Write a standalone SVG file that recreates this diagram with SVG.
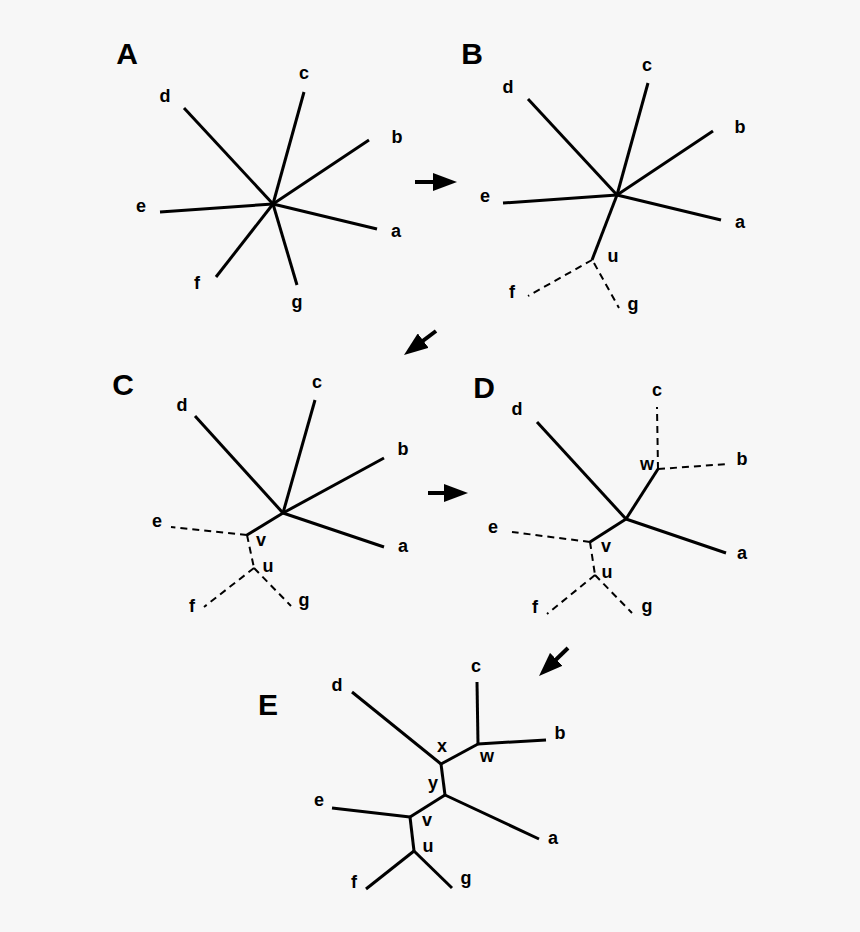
<svg xmlns="http://www.w3.org/2000/svg" width="860" height="932" viewBox="0 0 860 932">
<defs>
<style>
.bg{fill:#f7f7f7}
.t{font-family:"Liberation Sans",Arial,sans-serif;font-weight:bold;font-size:18px;fill:#000;text-anchor:middle}
.T{font-family:"Liberation Sans",Arial,sans-serif;font-weight:bold;font-size:30px;fill:#000;text-anchor:middle}
.s{stroke:#000;stroke-width:3;fill:none;stroke-linecap:butt}
.d{stroke:#000;stroke-width:2;fill:none;stroke-dasharray:7 5}
.ar{stroke:#000;stroke-width:4;fill:none}
</style>
<marker id="ah" markerUnits="userSpaceOnUse" viewBox="0 0 24 18" markerWidth="24" markerHeight="18" refX="10" refY="9" orient="auto">
<path d="M0,0 L24,9 L0,18 z" fill="#000"/>
</marker>
</defs>
<rect class="bg" x="0" y="0" width="860" height="932"/>

<g id="panelA">
<text class="T" x="127" y="64">A</text>
<g id="connectors-A">
<line class="s" x1="273" y1="204" x2="184" y2="108"/>
<line class="s" x1="273" y1="204" x2="304" y2="92"/>
<line class="s" x1="273" y1="204" x2="369" y2="140"/>
<line class="s" x1="273" y1="204" x2="377" y2="229"/>
<line class="s" x1="273" y1="204" x2="160" y2="212"/>
<line class="s" x1="273" y1="204" x2="216" y2="277"/>
<line class="s" x1="273" y1="204" x2="297" y2="285"/>
</g>
<g id="A-a"><text class="t" x="396" y="237">a</text></g>
<g id="A-b"><text class="t" x="397" y="143">b</text></g>
<g id="A-c"><text class="t" x="304" y="79">c</text></g>
<g id="A-d"><text class="t" x="165" y="102">d</text></g>
<g id="A-e"><text class="t" x="141" y="212">e</text></g>
<g id="A-f"><text class="t" x="197" y="289">f</text></g>
<g id="A-g"><text class="t" x="297" y="308">g</text></g>
</g>

<g id="panelB">
<text class="T" x="472" y="64">B</text>
<g id="connectors-B">
<line class="s" x1="617" y1="195" x2="528" y2="99"/>
<line class="s" x1="617" y1="195" x2="648" y2="83"/>
<line class="s" x1="617" y1="195" x2="713" y2="131"/>
<line class="s" x1="617" y1="195" x2="721" y2="220"/>
<line class="s" x1="617" y1="195" x2="503" y2="203"/>
<line class="s" x1="617" y1="195" x2="592" y2="260"/>
<line class="d" x1="592" y1="260" x2="528" y2="296"/>
<line class="d" x1="594" y1="263" x2="619" y2="308"/>
</g>
<g id="B-a"><text class="t" x="740" y="228">a</text></g>
<g id="B-b"><text class="t" x="740" y="133">b</text></g>
<g id="B-c"><text class="t" x="647" y="71">c</text></g>
<g id="B-d"><text class="t" x="508" y="93">d</text></g>
<g id="B-e"><text class="t" x="485" y="202">e</text></g>
<g id="B-u"><text class="t" x="613" y="262">u</text></g>
<g id="B-f"><text class="t" x="512" y="298">f</text></g>
<g id="B-g"><text class="t" x="633" y="310">g</text></g>
</g>

<g id="panelC">
<text class="T" x="123" y="395">C</text>
<g id="connectors-C">
<line class="s" x1="283" y1="513" x2="195" y2="416"/>
<line class="s" x1="283" y1="513" x2="315" y2="400"/>
<line class="s" x1="283" y1="513" x2="384" y2="458"/>
<line class="s" x1="283" y1="513" x2="384" y2="547"/>
<line class="s" x1="283" y1="513" x2="247" y2="535"/>
<line class="d" x1="247" y1="535" x2="171" y2="527"/>
<line class="d" x1="247" y1="535" x2="254" y2="568"/>
<line class="d" x1="254" y1="568" x2="204" y2="607"/>
<line class="d" x1="254" y1="568" x2="291" y2="606"/>
</g>
<g id="C-a"><text class="t" x="403" y="552">a</text></g>
<g id="C-b"><text class="t" x="403" y="455">b</text></g>
<g id="C-c"><text class="t" x="317" y="388">c</text></g>
<g id="C-d"><text class="t" x="182" y="411">d</text></g>
<g id="C-e"><text class="t" x="157" y="527">e</text></g>
<g id="C-v"><text class="t" x="261" y="546">v</text></g>
<g id="C-u"><text class="t" x="268" y="572">u</text></g>
<g id="C-f"><text class="t" x="192" y="612">f</text></g>
<g id="C-g"><text class="t" x="304" y="606">g</text></g>
</g>

<g id="panelD">
<text class="T" x="484" y="398">D</text>
<g id="connectors-D">
<line class="s" x1="626" y1="519" x2="537" y2="422"/>
<line class="s" x1="626" y1="519" x2="658" y2="469"/>
<line class="s" x1="626" y1="519" x2="726" y2="553"/>
<line class="s" x1="626" y1="519" x2="590" y2="542"/>
<line class="d" x1="658" y1="469" x2="657" y2="407"/>
<line class="d" x1="658" y1="469" x2="727" y2="464"/>
<line class="d" x1="590" y1="542" x2="512" y2="532"/>
<line class="d" x1="590" y1="542" x2="595" y2="575"/>
<line class="d" x1="595" y1="575" x2="547" y2="614"/>
<line class="d" x1="595" y1="575" x2="632" y2="613"/>
</g>
<g id="D-a"><text class="t" x="742" y="559">a</text></g>
<g id="D-b"><text class="t" x="742" y="465">b</text></g>
<g id="D-c"><text class="t" x="657" y="396">c</text></g>
<g id="D-w"><text class="t" x="647" y="470">w</text></g>
<g id="D-d"><text class="t" x="517" y="415">d</text></g>
<g id="D-e"><text class="t" x="493" y="533">e</text></g>
<g id="D-v"><text class="t" x="606" y="552">v</text></g>
<g id="D-u"><text class="t" x="607" y="578">u</text></g>
<g id="D-f"><text class="t" x="535" y="613">f</text></g>
<g id="D-g"><text class="t" x="647" y="612">g</text></g>
</g>

<g id="panelE">
<text class="T" x="268" y="715">E</text>
<g id="connectors-E">
<line class="s" x1="352" y1="692" x2="441" y2="764"/>
<line class="s" x1="441" y1="764" x2="478" y2="744"/>
<line class="s" x1="478" y1="744" x2="477" y2="682"/>
<line class="s" x1="478" y1="744" x2="546" y2="740"/>
<line class="s" x1="441" y1="764" x2="445" y2="795"/>
<line class="s" x1="445" y1="795" x2="539" y2="839"/>
<line class="s" x1="445" y1="795" x2="410" y2="817"/>
<line class="s" x1="410" y1="817" x2="332" y2="808"/>
<line class="s" x1="410" y1="817" x2="414" y2="851"/>
<line class="s" x1="414" y1="851" x2="366" y2="889"/>
<line class="s" x1="414" y1="851" x2="452" y2="888"/>
</g>
<g id="E-a"><text class="t" x="553" y="844">a</text></g>
<g id="E-b"><text class="t" x="560" y="739">b</text></g>
<g id="E-c"><text class="t" x="476" y="672">c</text></g>
<g id="E-d"><text class="t" x="337" y="691">d</text></g>
<g id="E-x"><text class="t" x="442" y="752">x</text></g>
<g id="E-w"><text class="t" x="487" y="762">w</text></g>
<g id="E-y"><text class="t" x="433" y="789">y</text></g>
<g id="E-e"><text class="t" x="319" y="806">e</text></g>
<g id="E-v"><text class="t" x="427" y="826">v</text></g>
<g id="E-u"><text class="t" x="428" y="852">u</text></g>
<g id="E-f"><text class="t" x="354" y="888">f</text></g>
<g id="E-g"><text class="t" x="466" y="884">g</text></g>
</g>

<g id="arrows">
<line class="ar" x1="415" y1="182" x2="443" y2="182" marker-end="url(#ah)"/>
<line class="ar" x1="436" y1="331" x2="415.2" y2="346.6" marker-end="url(#ah)"/>
<line class="ar" x1="428" y1="493" x2="454" y2="493" marker-end="url(#ah)"/>
<line class="ar" x1="568" y1="648" x2="549.1" y2="666.3" marker-end="url(#ah)"/>
</g>
</svg>
